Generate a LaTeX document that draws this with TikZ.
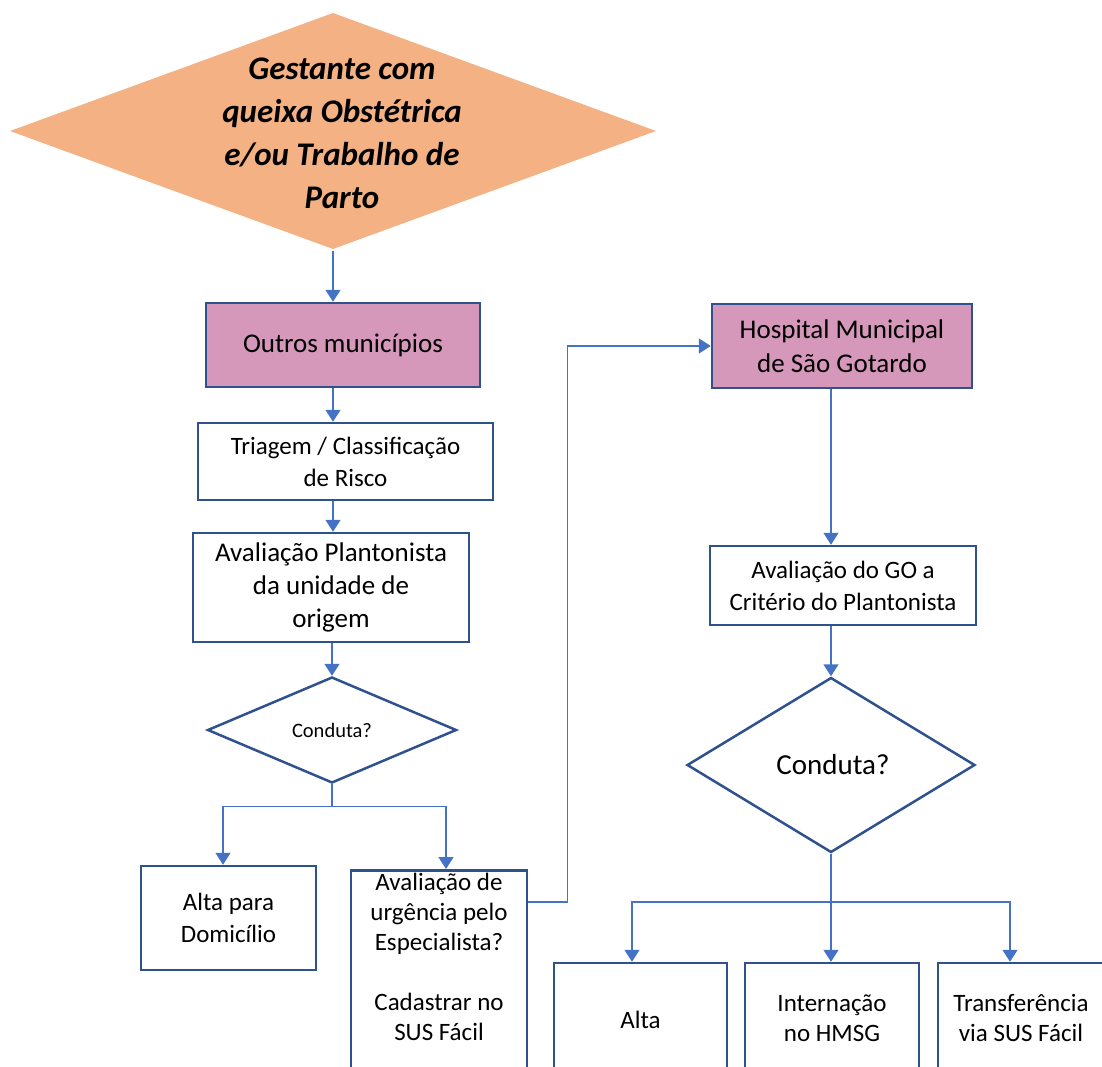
\documentclass[tikz,border=0pt]{standalone}
\usepackage{fontspec}
\setmainfont{Carlito}
\usetikzlibrary{shapes.geometric,arrows.meta}
\definecolor{boxline}{HTML}{2F528F}
\definecolor{link}{HTML}{4472C4}
\definecolor{orangefill}{HTML}{F4B183}
\definecolor{pinkfill}{HTML}{D597BA}
\begin{document}
\begin{tikzpicture}[x=1pt,y=-1pt,
  box/.style={draw=boxline, line width=2.5pt, rectangle, inner sep=0pt, align=center,
              font=\fontsize{25}{32}\selectfont},
  pinkbox/.style={box, fill=pinkfill, font=\fontsize{27}{34}\selectfont},
  decision/.style={draw=boxline, line width=2.5pt, diamond, inner sep=0pt},
  flow/.style={draw=link, line width=1.5pt, -{Triangle[width=15pt,length=12pt]}},
  plain/.style={draw=link, line width=1.5pt},
  label/.style={align=center, inner sep=0pt}
]
\useasboundingbox (0,0) rectangle (1102,1067);
\clip (0,0) rectangle (1102,1067);

% entry decision
\node[decision, draw=none, fill=orangefill, minimum width=647pt, minimum height=237pt] (start) at (333,131) {};
\node[label, font=\fontsize{33}{43}\selectfont\bfseries\itshape] (starttxt) at (342,133)
  {Gestante com\\queixa Obstétrica\\e/ou Trabalho de\\Parto};

% left branch
\node[pinkbox, minimum width=274pt, minimum height=84pt] (outros) at (343,345) {Outros municípios};
\node[box, minimum width=295pt, minimum height=77pt] (triagem) at (345.5,461.5) {Triagem / Classificação\\de Risco};
\node[box, minimum width=276pt, minimum height=109pt, font=\fontsize{27}{33}\selectfont] (plant) at (331,587.5)
  {Avaliação Plantonista\\da unidade de\\origem};
\node[decision, minimum width=249pt, minimum height=106pt] (dec1) at (332,730) {};
\node[label, font=\fontsize{20.5}{26}\selectfont] (dec1txt) at (332,730) {Conduta?};
\node[box, minimum width=175pt, minimum height=104pt] (altadom) at (228.5,918) {Alta para\\Domicílio};
\node[box, minimum width=176pt, minimum height=240pt, anchor=north] (urg) at (439,869) {};
\node[label, font=\fontsize{25}{30}\selectfont] (urgtxt) at (439,957)
  {Avaliação de\\urgência pelo\\Especialista?\\[30pt]Cadastrar no\\SUS Fácil};

% right branch
\node[pinkbox, minimum width=260pt, minimum height=84pt] (hosp) at (842,346) {Hospital Municipal\\de São Gotardo};
\node[box, minimum width=266pt, minimum height=79pt] (go) at (843,585.5) {Avaliação do GO a\\Critério do Plantonista};
\node[decision, minimum width=288pt, minimum height=175pt] (dec2) at (831,765) {};
\node[label, font=\fontsize{29}{35}\selectfont] (dec2txt) at (833,765) {Conduta?};
\node[box, minimum width=173pt, minimum height=114pt] (alta) at (640.5,1020) {Alta};
\node[box, minimum width=174pt, minimum height=110pt, font=\fontsize{25}{30}\selectfont] (intern) at (832,1018) {Internação\\no HMSG};
\node[box, minimum width=166pt, minimum height=110pt, font=\fontsize{25}{30}\selectfont] (transf) at (1021,1018) {Transferência\\via SUS Fácil};

% connectors, left
\draw[flow] (start.south) -- (start.south |- outros.north);
\draw[flow] (start.south |- outros.south) -- (start.south |- triagem.north);
\draw[flow] (start.south |- triagem.south) -- (start.south |- plant.north);
\draw[flow] (dec1.north |- plant.south) -- (dec1.north);
\draw[plain] (dec1.south) -- ++(0,22) coordinate (split1);
\draw[flow] (split1) -| ([xshift=-5.5pt]altadom.north);
\draw[flow] (split1) -| ([xshift=7pt]urg.north);
\draw[flow] ([yshift=-33pt]urg.north east) -- ++(39,0) |- (hosp.west);

% connectors, right
\draw[flow] ([xshift=-11pt]hosp.south) -- ([xshift=-11pt]hosp.south |- go.north);
\draw[flow] (dec2.north |- go.south) -- (dec2.north);
\draw[flow] (dec2.south) -- (dec2.south |- intern.north);
\coordinate (split2) at (dec2.south |- 0,902);
\draw[flow] (split2) -| ([xshift=-8.5pt]alta.north);
\draw[flow] (split2) -| ([xshift=-11pt]transf.north);
\end{tikzpicture}
\end{document}
